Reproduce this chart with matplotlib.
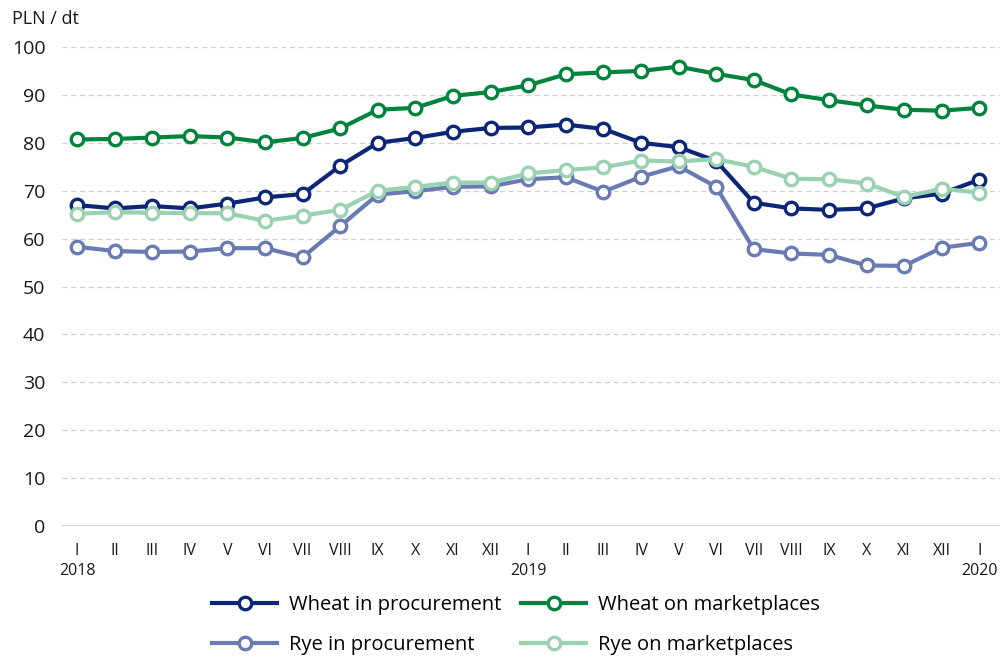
import matplotlib.pyplot as plt

plt.rcParams['font.family'] = ['Open Sans', 'DejaVu Sans']

months = ["I", "II", "III", "IV", "V", "VI", "VII", "VIII", "IX", "X", "XI", "XII",
          "I", "II", "III", "IV", "V", "VI", "VII", "VIII", "IX", "X", "XI", "XII", "I"]
years = {0: "2018", 12: "2019", 24: "2020"}

wheat_proc = [67.0, 66.3, 66.8, 66.3, 67.3, 68.6, 69.3, 75.2, 80.0, 81.0, 82.3, 83.1,
              83.2, 83.8, 82.9, 80.0, 79.1, 76.2, 67.5, 66.3, 66.0, 66.3, 68.4, 69.4, 72.3]
wheat_market = [80.7, 80.8, 81.1, 81.4, 81.1, 80.1, 81.0, 83.0, 86.9, 87.3, 89.8, 90.6,
                92.0, 94.3, 94.7, 95.0, 95.9, 94.4, 93.1, 90.1, 88.9, 87.8, 86.9, 86.7, 87.3]
rye_proc = [58.3, 57.4, 57.2, 57.3, 58.0, 58.0, 56.1, 62.6, 69.2, 69.9, 70.8, 70.9,
            72.4, 72.8, 69.8, 72.9, 75.1, 70.8, 57.8, 56.9, 56.6, 54.4, 54.3, 58.1, 59.1]
rye_market = [65.2, 65.5, 65.4, 65.3, 65.3, 63.7, 64.8, 66.0, 70.0, 70.8, 71.7, 71.7,
              73.6, 74.3, 74.9, 76.3, 76.1, 76.6, 75.0, 72.5, 72.4, 71.5, 68.7, 70.4, 69.6]

series = [
    ("Wheat in procurement", wheat_proc, "#0b2677"),
    ("Wheat on marketplaces", wheat_market, "#00843d"),
    ("Rye in procurement", rye_proc, "#6a7bb2"),
    ("Rye on marketplaces", rye_market, "#99d1b1"),
]

fig = plt.figure(figsize=(10.02, 6.57), dpi=100)
ax = fig.add_axes([62 / 1002, 131 / 657, 938 / 1002, 479 / 657])

x = list(range(len(months)))
# draw rye first so wheat lines sit on top
order = [2, 3, 0, 1]
handles = {}
for i in order:
    name, vals, col = series[i]
    h, = ax.plot(x, vals, color=col, lw=3, marker='o', ms=9,
                 markerfacecolor='white', markeredgecolor=col, markeredgewidth=2.4,
                 label=name, zorder=3 + i)
    handles[i] = h

ax.set_ylim(0, 100)
ax.set_xlim(-0.4, 24.55)
ax.set_yticks(range(0, 101, 10))
ax.yaxis.grid(True, color='#cfcfcf', linestyle=(0, (4, 3)), lw=0.9)
ax.axhline(0, color='#d0d0d0', lw=2, zorder=1)
for s in ax.spines.values():
    s.set_visible(False)
ax.tick_params(axis='y', length=0, labelsize=14, pad=12, colors='#1a1a1a')

labels = [m + ("\n" + years[i] if i in years else "") for i, m in enumerate(months)]
ax.set_xticks(x)
ax.set_xticklabels(labels, fontsize=11.5, linespacing=1.4, va='top')
ax.tick_params(axis='x', length=0, pad=12, colors='#1a1a1a')

fig.text(12 / 1002, 1 - 19 / 657, "PLN / dt", fontsize=13, va='center', color='#1a1a1a')

# ncol=2 fills column-wise, so order handles to give rows: wheat / rye
leg_order = [0, 2, 1, 3]
fig.legend([handles[i] for i in leg_order], [series[i][0] for i in leg_order],
           loc='center', bbox_to_anchor=(0.515, 1 - 625 / 657), ncol=2,
           frameon=False, fontsize=14.5, handlelength=3.2, columnspacing=1.0,
           labelspacing=1.0, handletextpad=0.6)

fig.savefig("out.png", dpi=100)
